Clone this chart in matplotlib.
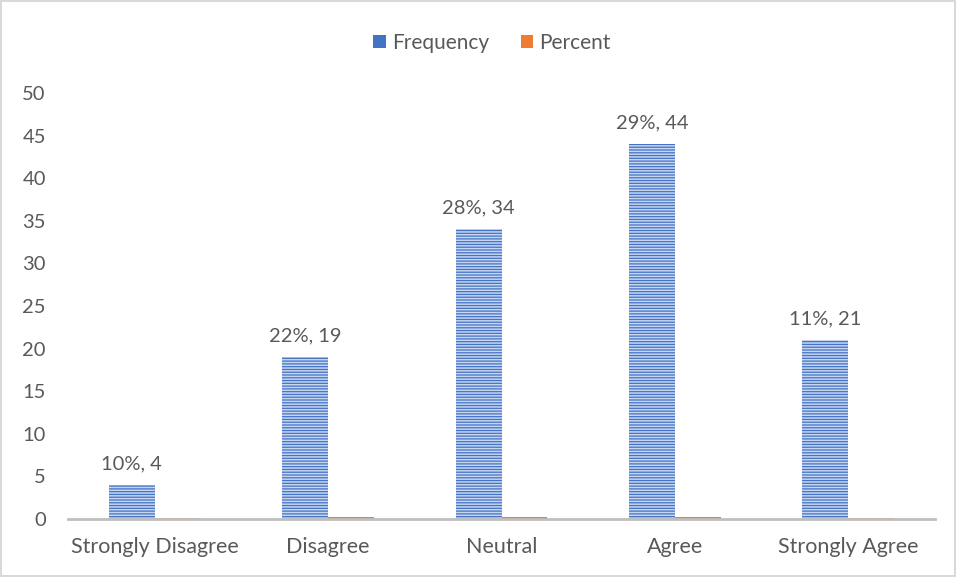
import matplotlib
matplotlib.use("Agg")
import matplotlib.pyplot as plt
import numpy as np

categories = ["Strongly Disagree", "Disagree", "Neutral", "Agree", "Strongly Agree"]
frequency = [4, 19, 34, 44, 21]
percent = [0.10, 0.22, 0.28, 0.29, 0.11]
percent_labels = ["10%", "22%", "28%", "29%", "11%"]
y_ticks = [0, 5, 10, 15, 20, 25, 30, 35, 40, 45, 50]

plt.rcParams["font.family"] = ["Lato", "DejaVu Sans"]
plt.rcParams["hatch.linewidth"] = 1.1

text_color = "#595959"
blue = "#4472C4"
orange = "#ED7D31"

fig = plt.figure(figsize=(9.56, 5.77), dpi=100)
fig.patch.set_facecolor("white")
fig.patch.set_edgecolor("#D9D9D9")
fig.patch.set_linewidth(1.5)

ax = fig.add_axes([68 / 956, 58 / 577, (935 - 68) / 956, (519 - 93) / 577])

x = np.arange(len(categories))
width = 0.265
bars = ax.bar(x - width / 2, frequency, width, facecolor=blue, edgecolor="#C6D5F2",
              hatch="------", linewidth=0, label="Frequency", zorder=2)
ax.bar(x + width / 2, percent, width, color=orange, linewidth=0, label="Percent", zorder=1)

for rect, f, p in zip(bars, frequency, percent_labels):
    ax.annotate(f"{p}, {f}", (rect.get_x() + rect.get_width() / 2, f),
                xytext=(0, 9), textcoords="offset points", ha="center", va="bottom",
                fontsize=14.5, color=text_color)

ax.set_xlim(-0.5, len(categories) - 0.5)
ax.set_ylim(0, 50)
ax.set_yticks(y_ticks)
ax.set_xticks(x)
ax.set_xticklabels(categories)
ax.tick_params(axis="y", length=0, pad=16, labelsize=14.5, labelcolor=text_color)
ax.tick_params(axis="x", length=0, pad=13, labelsize=15.5, labelcolor=text_color)

for side in ("top", "right", "left"):
    ax.spines[side].set_visible(False)
ax.spines["bottom"].set_color("#BFBFBF")
ax.spines["bottom"].set_linewidth(2)
ax.spines["bottom"].set_zorder(3)

leg = fig.legend(loc="center", bbox_to_anchor=(492 / 956, 1 - 43 / 577), ncol=2,
                 frameon=False, fontsize=15, handlelength=0.6, handleheight=0.6,
                 handletextpad=0.3, columnspacing=1.5)
for t in leg.get_texts():
    t.set_color(text_color)
for h in leg.legend_handles:
    h.set_hatch(None)

fig.savefig("out.png", dpi=100)
